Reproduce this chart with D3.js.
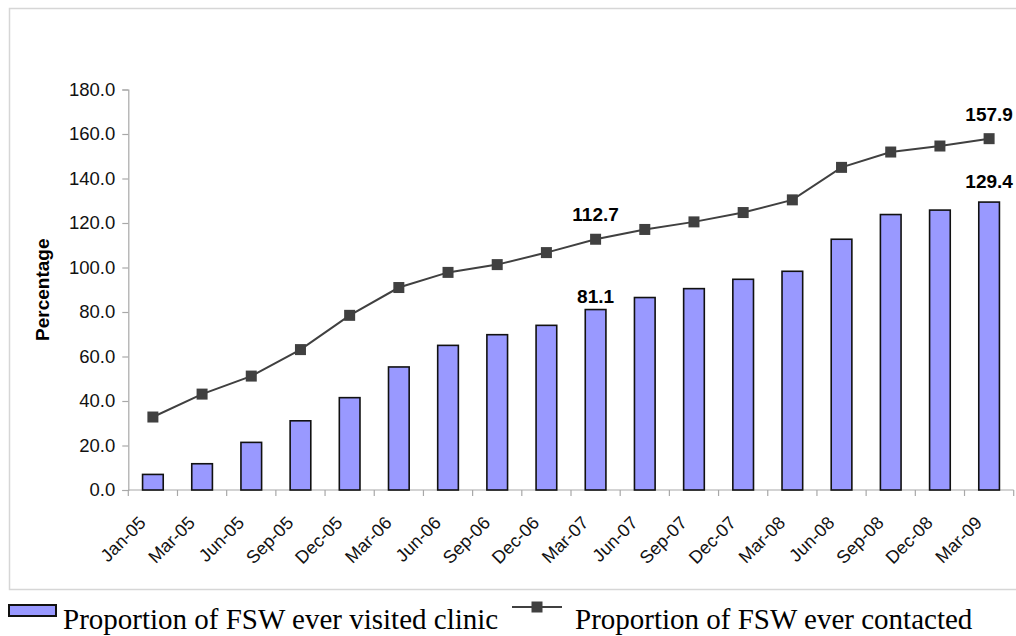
<!DOCTYPE html>
<html>
<head>
<meta charset="utf-8">
<script src="https://cdn.jsdelivr.net/npm/d3@7"></script>
<style>
  html, body { margin: 0; padding: 0; background: #fff; }
  svg { display: block; }
</style>
</head>
<body>
<script>
const months = ['Jan-05', 'Mar-05', 'Jun-05', 'Sep-05', 'Dec-05', 'Mar-06', 'Jun-06', 'Sep-06', 'Dec-06',
  'Mar-07', 'Jun-07', 'Sep-07', 'Dec-07', 'Mar-08', 'Jun-08', 'Sep-08', 'Dec-08', 'Mar-09']
const visited = [7.0, 11.8, 21.4, 31.1, 41.5, 55.3, 65.0, 69.8, 74.0, 81.1, 86.5, 90.5, 94.7, 98.3, 112.7, 123.8, 125.8, 129.4]
const contacted = [32.8, 43.1, 51.2, 63.1, 78.5, 91.0, 97.8, 101.3, 106.7, 112.7, 117.1, 120.5, 124.7, 130.4, 145.0, 151.9, 154.6, 157.9]
const yTicks = [0, 20, 40, 60, 80, 100, 120, 140, 160, 180]
const barNames = ['Proportion of FSW ever visited clinic', 'Proportion of FSW ever contacted']
// which points carry a value label
const barLabelIdx = [9, 17]
const lineLabelIdx = [9, 17]

const width = 1016, height = 636
const sans = '"Liberation Sans", Arial, sans-serif'
const serif = '"Liberation Serif", "Times New Roman", serif'

const svg = d3.select('body').append('svg')
  .attr('width', width)
  .attr('height', height)

// outer chart frame
svg.append('rect')
  .attr('x', 9.5).attr('y', 8.5)
  .attr('width', 1020).attr('height', 581)
  .attr('fill', 'none')
  .attr('stroke', '#d6d6d6')
  .attr('stroke-width', 1.5)

const x = d3.scaleBand().domain(months).range([128.3, 1013.7]).padding(0)
const y = d3.scaleLinear().domain([0, 180]).range([490, 89.5])
const bw = x.bandwidth()
const cx = d => x(d) + bw / 2

// y axis
const yAxis = svg.append('g')
  .attr('transform', 'translate(128.3,0)')
  .call(d3.axisLeft(y).tickValues(yTicks).tickFormat(d3.format('.1f')).tickSize(6).tickPadding(7))
yAxis.select('.domain').attr('stroke', '#a8a8a8').attr('stroke-width', 1.2)
yAxis.selectAll('.tick line').attr('stroke', '#a8a8a8').attr('stroke-width', 1.2)
yAxis.selectAll('.tick text')
  .attr('font-family', sans)
  .attr('font-size', 18.5)
  .attr('fill', '#111')

// x axis line + ticks between categories
const xg = svg.append('g')
xg.append('line')
  .attr('x1', x.range()[0]).attr('x2', x.range()[1])
  .attr('y1', y(0)).attr('y2', y(0))
  .attr('stroke', '#a8a8a8').attr('stroke-width', 1.2)
xg.selectAll('line.tk')
  .data(months.map(m => x(m)).concat([x.range()[1]]))
  .enter().append('line')
  .attr('class', 'tk')
  .attr('x1', d => d).attr('x2', d => d)
  .attr('y1', y(0)).attr('y2', y(0) + 6)
  .attr('stroke', '#a8a8a8').attr('stroke-width', 1.2)
xg.selectAll('text')
  .data(months).enter()
  .append('text')
  .attr('transform', d => `translate(${cx(d) - 6},${y(0) + 34}) rotate(-45)`)
  .attr('text-anchor', 'end')
  .attr('font-family', sans)
  .attr('font-size', 18)
  .attr('fill', '#111')
  .text(d => d)

// y title
svg.append('text')
  .attr('transform', `translate(49,${(y(0) + y(180)) / 2}) rotate(-90)`)
  .attr('text-anchor', 'middle')
  .attr('font-family', sans)
  .attr('font-weight', 'bold')
  .attr('font-size', 19)
  .text('Percentage')

// bars
svg.append('g')
  .selectAll('rect').data(visited).enter()
  .append('rect')
  .attr('x', (d, i) => x(months[i]) + bw * 0.29)
  .attr('width', bw * 0.42)
  .attr('y', d => y(d))
  .attr('height', d => y(0) - y(d))
  .attr('fill', '#9999ff')
  .attr('stroke', '#111')
  .attr('stroke-width', 1.6)

// line + markers
const line = d3.line().x((d, i) => cx(months[i])).y(d => y(d))
svg.append('path')
  .datum(contacted)
  .attr('d', line)
  .attr('fill', 'none')
  .attr('stroke', '#404040')
  .attr('stroke-width', 2)
svg.append('g')
  .selectAll('rect').data(contacted).enter()
  .append('rect')
  .attr('x', (d, i) => cx(months[i]) - 5.5)
  .attr('y', d => y(d) - 5.5)
  .attr('width', 11).attr('height', 11)
  .attr('fill', '#404040')

// value labels
const barDy = [-7, -14]
svg.append('g')
  .selectAll('text').data(barLabelIdx).enter()
  .append('text')
  .attr('x', i => cx(months[i]))
  .attr('y', (i, k) => y(visited[i]) + barDy[k])
  .attr('text-anchor', 'middle')
  .attr('font-family', sans)
  .attr('font-weight', 'bold')
  .attr('font-size', 19)
  .text(i => visited[i].toFixed(1))
svg.append('g')
  .selectAll('text').data(lineLabelIdx).enter()
  .append('text')
  .attr('x', i => cx(months[i]))
  .attr('y', i => y(contacted[i]) - 18)
  .attr('text-anchor', 'middle')
  .attr('font-family', sans)
  .attr('font-weight', 'bold')
  .attr('font-size', 19)
  .text(i => contacted[i].toFixed(1))

// legend
const lg = svg.append('g')
lg.append('rect')
  .attr('x', 9).attr('y', 605)
  .attr('width', 47).attr('height', 11)
  .attr('fill', '#9999ff')
  .attr('stroke', '#111')
  .attr('stroke-width', 2)
lg.append('text')
  .attr('x', 63).attr('y', 629)
  .attr('font-family', serif)
  .attr('font-size', 29)
  .text(barNames[0])
lg.append('line')
  .attr('x1', 512).attr('x2', 562)
  .attr('y1', 607).attr('y2', 607)
  .attr('stroke', '#404040').attr('stroke-width', 2)
lg.append('rect')
  .attr('x', 531.5).attr('y', 601.5)
  .attr('width', 11).attr('height', 11)
  .attr('fill', '#404040')
lg.append('text')
  .attr('x', 575).attr('y', 629)
  .attr('font-family', serif)
  .attr('font-size', 29)
  .text(barNames[1])
</script>
</body>
</html>
